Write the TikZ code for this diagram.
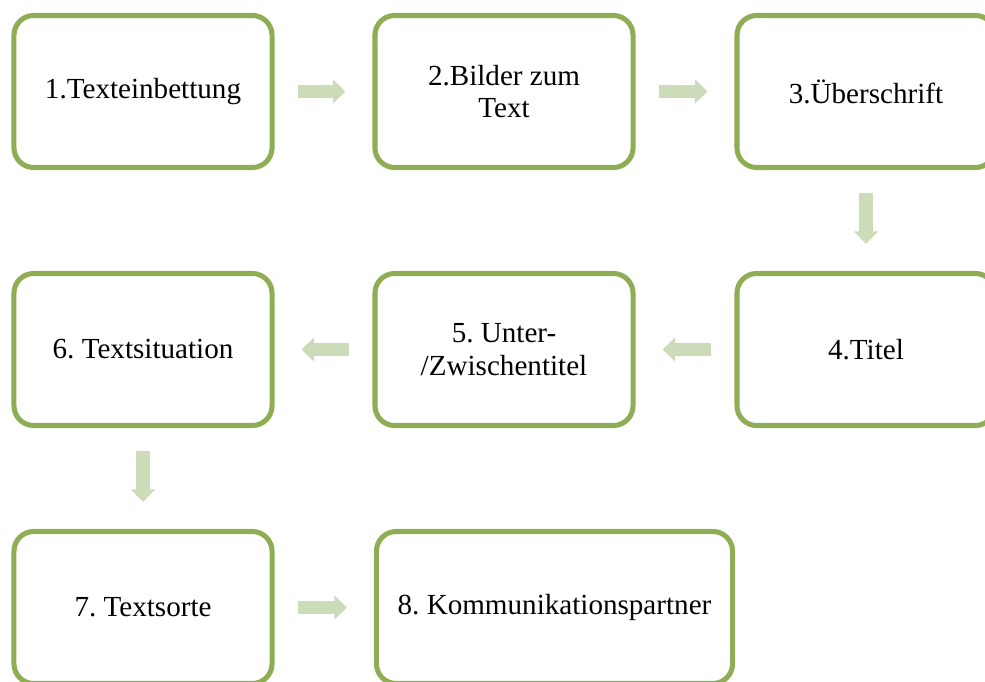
\documentclass[tikz,border=0pt]{standalone}
\usepackage{fontspec}
\setmainfont{Liberation Serif}
\newfontfamily\stagefont{Liberation Serif}
\usetikzlibrary{arrows.meta}
\definecolor{boxgreen}{RGB}{143,173,85}
\definecolor{arrowgreen}{RGB}{204,220,185}
\frenchspacing

\begin{document}
\begin{tikzpicture}[x=0.025cm, y=-0.025cm,
    stage/.style={draw=boxgreen, line width=3.6pt, rounded corners=14pt, fill=white,
      minimum width=6.45cm, minimum height=3.8cm, align=center,
      font=\stagefont\fontsize{20.7}{23}\selectfont},
    flow/.style={draw=arrowgreen, line width=9.5pt,
      -{Triangle[width=17pt,length=9pt]}, shorten <=0.575cm, shorten >=0.675cm}]
    \useasboundingbox (0,0) rectangle (985,682);
    \clip (0,0) rectangle (985,682);
    \node[stage] (t1) at (143,91.5) {1.Texteinbettung};
    \node[stage] (t2) at (504,91.5) {2.Bilder zum\\Text};
    \node[stage] (t3) at (866,91.5) {3.Überschrift};
    \node[stage] (t4) at (866,349.5) {4.Titel};
    \node[stage] (t5) at (504,349.5) {5. Unter-\\/Zwischentitel};
    \node[stage] (t6) at (143,349.5) {6. Textsituation};
    \node[stage] (t7) at (143,607.5) {7. Textsorte};
    \node[stage, minimum width=8.9cm] (t8) at (554.5,607.5) {8. Kommunikationspartner};
    \draw[flow] (t1) -- (t2);
    \draw[flow] (t2) -- (t3);
    \draw[flow] (t3) -- (t4);
    \draw[flow] (t4) -- (t5);
    \draw[flow] (t5) -- (t6);
    \draw[flow] (t6) -- (t7);
    \draw[flow] (t7) -- (t8);
  \end{tikzpicture}
\end{document}
